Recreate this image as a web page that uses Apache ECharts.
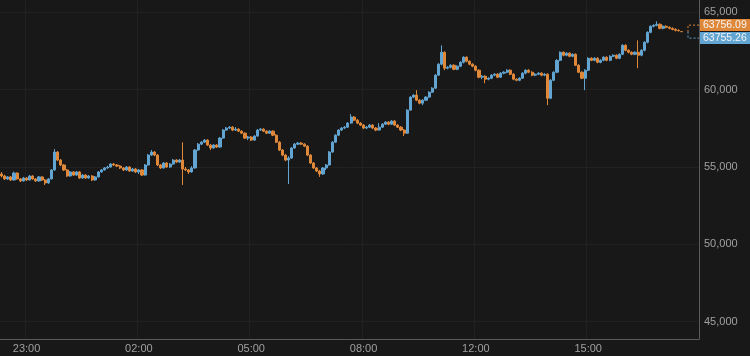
<!DOCTYPE html>
<html>
<head>
<meta charset="utf-8">
<script src="https://cdn.jsdelivr.net/npm/echarts@6/dist/echarts.min.js"></script>
<style>
html,body{margin:0;padding:0;background:#181818;}
#c{width:750px;height:356px;}
</style>
</head>
<body>
<div id="c"></div>
<script>
// time labels and the slot where each sits
const timeLabels = ['23:00', '02:00', '05:00', '08:00', '12:00', '15:00'];
const timeLabelSlots = [8, 44, 80, 116, 152, 188];
const slotCount = 224;
// y axis tick values
const priceTicks = [45000, 50000, 55000, 60000, 65000];
// last price tags
const priceTags = [63756.09, 63755.26];
// candles: [open, close, low, high]
const candles = [
[54550,54420,54330,54680],[54420,54230,54160,54500],[54230,54360,54170,54420],[54360,54160,54100,54420],
[54160,54610,54130,54700],[54610,54230,54180,54650],[54230,54100,54030,54290],[54100,54290,54060,54360],
[54290,54160,54100,54350],[54160,54420,54130,54480],[54420,54230,54170,54470],[54230,54100,54040,54290],
[54100,54360,54060,54420],[54360,54160,54100,54400],[54160,53970,53840,54220],[53970,54230,53920,54290],
[54230,54810,54200,54870],[54810,55970,54760,56160],[55970,55450,55380,56030],[55450,55130,55060,55520],
[55130,54810,54740,55190],[54810,54420,54360,54870],[54420,54680,54380,54740],[54680,54480,54420,54740],
[54480,54680,54430,54750],[54680,54290,54230,54740],[54290,54480,54250,54550],[54480,54290,54230,54530],
[54290,54420,54240,54480],[54420,54160,54100,54470],[54160,54360,54120,54420],[54360,54680,54320,54740],
[54680,54810,54640,54870],[54810,54940,54770,55000],[54940,55000,54880,55080],[55000,55190,54960,55260],
[55190,55130,55060,55260],[55130,55060,55000,55190],[55060,54940,54870,55120],[54940,54810,54740,55000],
[54810,55000,54760,55060],[55000,54740,54680,55060],[54740,54870,54700,54940],[54870,54680,54610,54930],
[54680,54810,54550,54870],[54810,54480,54420,54870],[54480,55130,54450,55190],[55130,55770,55090,55840],
[55770,55970,55720,56100],[55970,55770,55700,56030],[55770,55130,55060,55840],[55130,54940,54870,55190],
[54940,55260,54900,55320],[55260,55000,54940,55320],[55000,55190,54950,55260],[55190,55450,55150,55510],
[55450,55320,55260,55510],[55320,55450,55280,55520],[55450,54870,53840,56600],[54870,54810,54740,55000],
[54810,54680,54550,54870],[54680,54940,54640,55060],[54940,56100,54900,56160],[56100,56480,56050,56550],
[56480,56610,56420,56680],[56610,56740,56550,56810],[56740,56420,56360,56800],[56420,56230,56100,56480],
[56230,56420,56190,56480],[56420,56290,56230,56480],[56290,56870,56250,56940],[56870,57390,56830,57450],
[57390,57520,57340,57580],[57520,57580,57450,57650],[57580,57390,57320,57640],[57390,57450,57330,57580],
[57450,57320,57260,57510],[57320,57190,57130,57380],[57190,56870,56810,57250],[56870,56940,56740,57000],
[56940,56740,56680,57000],[56740,57000,56700,57060],[57000,57390,56960,57450],[57390,57450,57330,57520],
[57450,57320,57260,57510],[57320,57190,57130,57380],[57190,57320,57150,57390],[57320,57060,57000,57380],
[57060,56610,56550,57120],[56610,56100,56030,56680],[56100,55770,55700,56160],[55770,55450,55380,55840],
[55450,55580,53900,55700],[55580,56230,55520,56290],[56230,56480,56190,56550],[56480,56550,56420,56610],
[56550,56480,56420,56610],[56480,56350,56290,56540],[56350,55770,55700,56420],[55770,55260,55190,55840],
[55260,54940,54870,55320],[54940,54740,54680,55000],[54740,54550,54360,54810],[54550,54940,54500,55000],
[54940,55130,54800,55190],[55130,55970,55090,56030],[55970,56610,55930,56680],[56610,57060,56550,57120],
[57060,57390,57000,57450],[57390,57520,57330,57580],[57520,57580,57450,57650],[57580,57840,57520,57900],
[57840,58230,57800,58420],[58230,58030,57970,58300],[58030,57840,57770,58100],[57840,57710,57650,57900],
[57710,57520,57450,57780],[57520,57580,57450,57650],[57580,57710,57520,57780],[57710,57520,57450,57770],
[57520,57390,57320,57580],[57390,57580,57350,57840],[57580,57770,57540,57840],[57770,57900,57710,57970],
[57900,57770,57700,57960],[57770,57970,57730,58030],[57970,57710,57650,58030],[57710,57580,57520,57770],
[57580,57390,57320,57650],[57390,57190,57000,57450],[57190,58680,57150,58740],[58680,59520,58640,59580],
[59520,59650,59450,59710],[59650,59320,59260,59970],[59320,59130,59060,59390],[59130,59320,59000,59390],
[59320,59520,59280,59580],[59520,59840,59480,59900],[59840,60100,59800,60160],[60100,60940,60060,61000],
[60940,61650,60900,61710],[61650,62420,61580,62870],[62420,61390,61260,62480],[61390,61450,61320,61520],
[61450,61580,61380,61650],[61580,61320,61260,61650],[61320,61520,61260,61580],[61520,61770,61450,61840],
[61770,62100,61700,62160],[62100,61840,61770,62160],[61840,61650,61580,61900],[61650,61520,61450,61710],
[61520,61260,61190,61580],[61260,60810,60740,61320],[60810,60870,60680,60940],[60870,60680,60420,60940],
[60680,60740,60610,60810],[60740,60940,60680,61000],[60940,61000,60870,61070],[61000,60810,60740,61070],
[60810,61070,60760,61130],[61070,61130,61000,61200],[61130,61260,61070,61320],[61260,61000,60940,61320],
[61000,60680,60610,61070],[60680,60610,60550,60740],[60610,60740,60550,60810],[60740,61070,60700,61130],
[61070,61260,61000,61320],[61260,61130,61070,61320],[61130,60940,60870,61190],[60940,61000,60870,61070],
[61000,61070,60940,61130],[61070,60940,60870,61130],[60940,61000,60870,61070],[61000,59450,59000,61060],
[59450,60610,59390,60680],[60610,61130,60550,61190],[61130,61900,61070,61970],[61900,62420,61840,62480],
[62420,62230,62160,62480],[62230,62360,62160,62420],[62360,62160,62100,62420],[62160,62290,62100,62350],
[62290,61580,61520,62350],[61580,61130,61070,61650],[61130,60740,60680,61190],[60740,61260,59970,61320],
[61260,62030,61200,62100],[62030,61900,61840,62100],[61900,62030,61840,62100],[62030,61770,61710,62100],
[61770,61900,61710,61970],[61900,62100,61840,62160],[62100,61900,61840,62160],[61900,62160,61840,62230],
[62160,62230,62100,62290],[62230,62030,61970,62290],[62030,62290,61970,62350],[62290,62870,62230,62940],
[62870,62550,62480,62940],[62550,62420,62350,62610],[62420,62290,62230,62480],[62290,62420,62230,62480],
[62420,62230,61390,63190],[62230,62550,62160,62610],[62550,63070,62480,63130],[63070,63710,63000,63770],
[63710,64100,63650,64160],[64100,64160,64030,64230],[64160,64230,64100,64420],[64230,63970,63900,64290],
[63970,64100,63900,64160],[64100,64030,63970,64160],[64030,63970,63900,64100],[63970,63900,63840,64030],
[63900,63840,63770,63970],[63840,63810,63770,63900],[63756.09,63755.26,63740,63770]
];

const UP = '#62a5d2', DOWN = '#e0883a';
const categories = [];
for (let i = 0; i < slotCount; i++) {
  const k = timeLabelSlots.indexOf(i);
  categories.push(k >= 0 ? timeLabels[k] : '');
}

const chart = echarts.init(document.getElementById('c'), null, {renderer: 'canvas'});
const font = "'Liberation Sans', Arial, sans-serif";
chart.setOption({
  backgroundColor: '#181818',
  animation: false,
  grid: {left: 0, top: 0, right: 51, bottom: 17, show: false},
  xAxis: {
    type: 'category', data: categories, boundaryGap: true,
    axisLine: {show: true, lineStyle: {color: '#5a5a5a'}},
    axisTick: {show: false, alignWithLabel: true, interval: (i, v) => v !== ''},
    axisLabel: {color: '#a0a0a0', fontSize: 11, fontFamily: font, margin: 4, interval: (i, v) => v !== ''},
    splitLine: {show: true, interval: (i, v) => v !== '', lineStyle: {color: '#212121', width: 1}}
  },
  yAxis: {
    type: 'value', position: 'right', min: 43880, max: 65800, scale: true,
    axisLine: {show: true, lineStyle: {color: '#5a5a5a'}},
    axisTick: {show: false, customValues: priceTicks},
    axisLabel: {customValues: priceTicks, color: '#a0a0a0', fontSize: 11, fontFamily: font, margin: 5,
      formatter: v => Number(v).toLocaleString('en-US')},
    splitLine: {show: true, lineStyle: {color: '#212121', width: 1}}
  },
  series: [{
    type: 'candlestick', data: candles, barWidth: 2.6,
    itemStyle: {color: UP, color0: DOWN, borderColor: UP, borderColor0: DOWN, borderWidth: 1}
  }]
});

// price tags on the right axis
const py = chart.convertToPixel({yAxisIndex: 0}, priceTags[0]);
const gx = 699;
const tagH = 12;
const upY = py - 6.5, dnY = py + 6.5;
chart.setOption({
  graphic: [
    {type: 'polyline', shape: {points: [[gx, upY], [688, upY], [688, py]]}, style: {stroke: DOWN, lineWidth: 1, lineDash: [2, 2], fill: null}},
    {type: 'polyline', shape: {points: [[688, py], [688, dnY], [gx, dnY]]}, style: {stroke: UP, lineWidth: 1, lineDash: [2, 2], fill: null}},
    {type: 'rect', shape: {x: gx, y: upY - tagH / 2, width: 51, height: tagH}, style: {fill: DOWN}},
    {type: 'text', x: gx + 4, y: upY, style: {text: priceTags[0].toFixed(2), fill: '#f4f4f4', font: '10.5px ' + font, verticalAlign: 'middle'}},
    {type: 'rect', shape: {x: gx, y: dnY - tagH / 2, width: 51, height: tagH}, style: {fill: UP}},
    {type: 'text', x: gx + 4, y: dnY, style: {text: priceTags[1].toFixed(2), fill: '#f4f4f4', font: '10.5px ' + font, verticalAlign: 'middle'}}
  ]
});
</script>
</body>
</html>
